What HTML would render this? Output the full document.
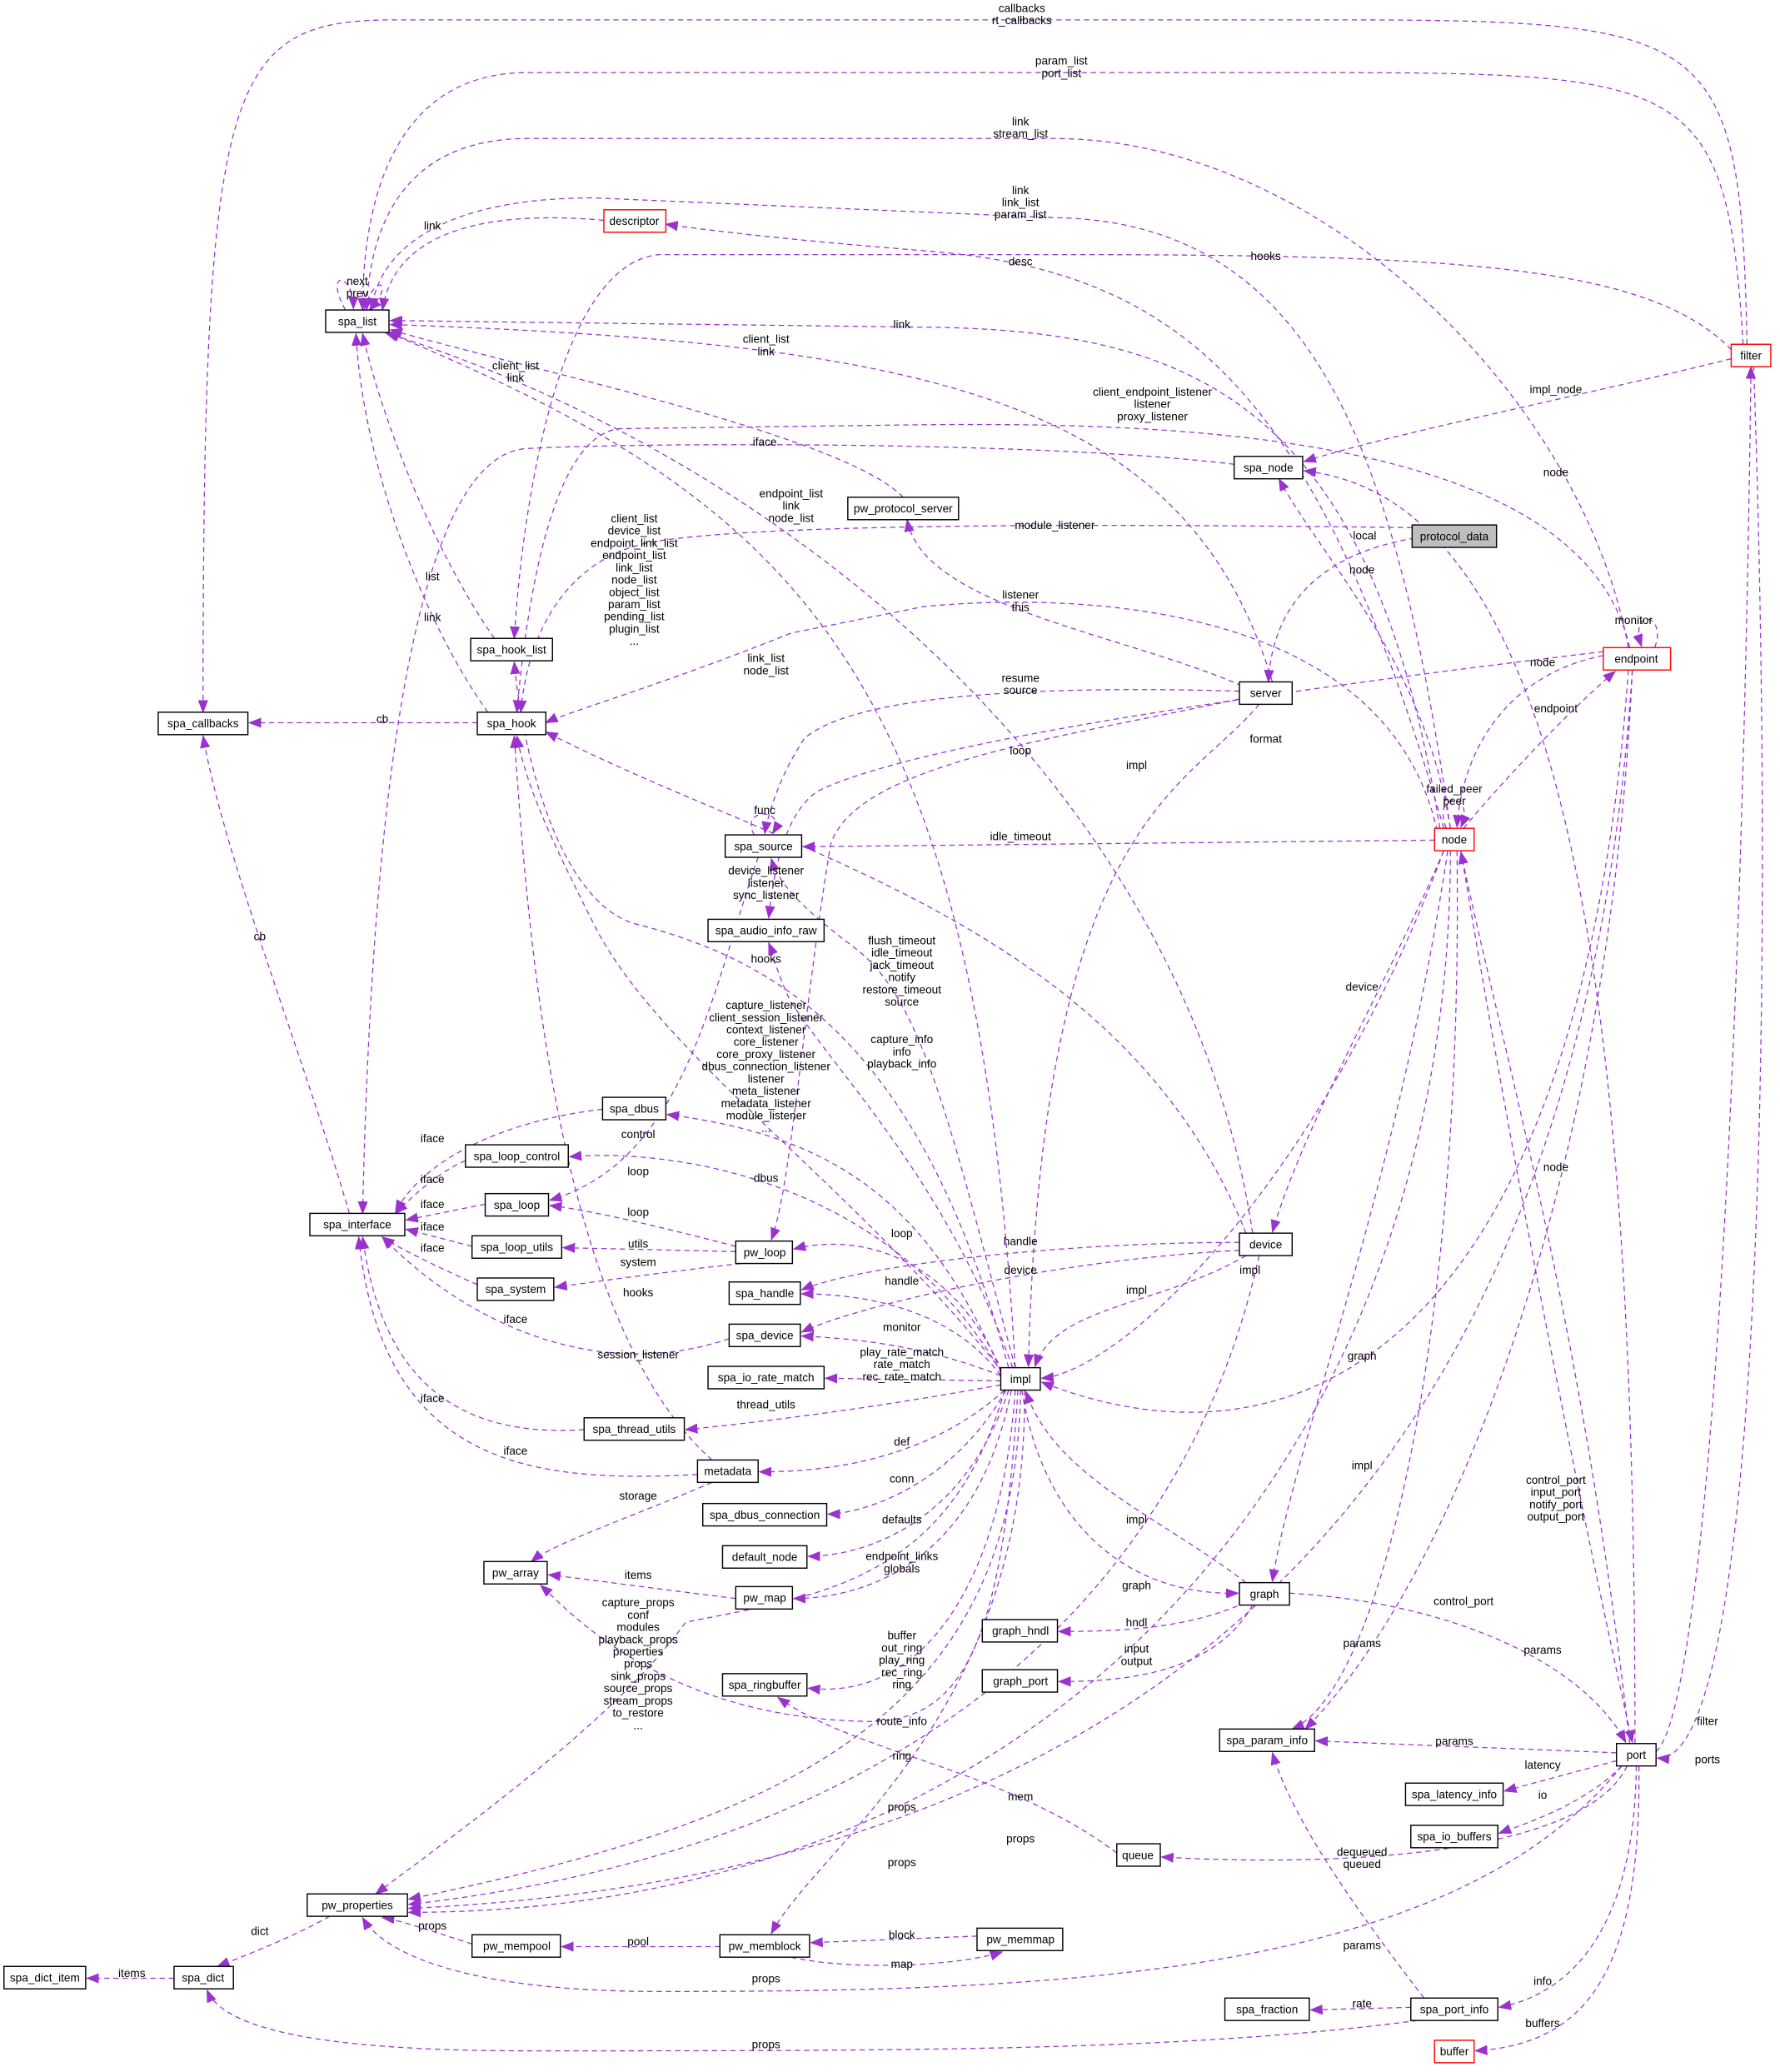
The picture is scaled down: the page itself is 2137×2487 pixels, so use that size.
<!DOCTYPE html>
<html><head><meta charset="utf-8"><style>
html,body{margin:0;padding:0;background:#fff;}
svg{display:block;}
text{font-family:"Liberation Sans",Helvetica,Arial,sans-serif;font-size:8.6px;fill:#000;}
.n rect{fill:#fff;stroke:#000;stroke-width:0.9;}
.r rect{stroke:#f00;}
.g rect{fill:#bfbfbf;}
.e path{fill:none;stroke:#9a32cd;stroke-width:0.8;stroke-dasharray:4,3;marker-end:url(#a);}
</style></head><body>
<svg width="2137" height="2487" viewBox="0 0 1350 1571" xmlns="http://www.w3.org/2000/svg">
<defs><marker id="a" markerWidth="10" markerHeight="8" refX="9" refY="4" orient="auto" markerUnits="userSpaceOnUse"><path d="M0,0.5 L9,4 L0,7.5 z" fill="#9a32cd" stroke="#9a32cd" stroke-width="0.6"/></marker></defs>
<g class="e">
<path d="M1325,261 C1320,20 1300,15 1000,15 L300,15 C170,15 154,60 154,540"/>
<path d="M1322,261 C1310,60 1280,55 1000,55 L400,55 C300,55 275,150 275,235"/>
<path d="M1235,491 C1200,300 1000,105 800,105 L400,105 C300,105 280,180 278,235"/>
<path d="M1100,628 C1060,350 1000,168 800,165 L450,150 C320,150 285,200 282,235"/>
<path d="M458,167 C380,160 300,170 290,235"/>
<path d="M1095,628 C1000,300 900,205 700,190 C600,182 540,175 505,170"/>
<path d="M1313,265 C1250,200 1100,193 800,193 L500,193 C420,200 395,400 390,484"/>
<path d="M1092,628 C1040,300 900,250 700,248 L296,243"/>
<path d="M965,517 C900,300 700,260 296,246"/>
<path d="M685,377 C640,330 400,280 296,250"/>
<path d="M936,352 C800,335 500,335 400,340 C300,345 280,700 275,920"/>
<path d="M1236,491 C1200,330 900,320 700,322 L470,325 C420,330 400,450 392,540"/>
<path d="M770,1037 C740,500 600,380 294,252"/>
<path d="M950,935 C900,600 600,350 292,252"/>
<path d="M1071,400 C900,398 600,395 500,410 C430,420 400,480 395,540"/>
<path d="M1073,408 C1000,420 965,460 962,517"/>
<path d="M1100,628 C1080,500 1000,420 970,363"/>
<path d="M942,520 C850,480 700,460 688,394"/>
<path d="M1090,630 C1050,450 800,450 700,460 L600,480 C500,520 430,540 414,548"/>
<path d="M375,484 C330,420 290,320 275,253"/>
<path d="M370,540 C320,470 275,350 270,253"/>
<path d="M262,235 C245,205 268,205 268,234"/>
<path d="M276,235 C285,205 300,215 280,235"/>
<path d="M362,548 L189,548"/>
<path d="M265,920 C230,800 170,650 154,558"/>
<path d="M1216,497 C1150,510 1110,560 1105,627"/>
<path d="M1110,628 C1150,580 1200,530 1225,509"/>
<path d="M1255,491 C1265,465 1235,460 1245,490"/>
<path d="M1216,494 C1000,520 700,560 620,600 C590,620 585,680 583,696"/>
<path d="M940,524 C800,520 650,525 610,560 C590,590 582,620 580,632"/>
<path d="M940,530 C800,560 650,580 630,640 C610,760 600,900 585,940"/>
<path d="M955,534 C900,600 790,620 780,1036"/>
<path d="M572,633 C560,612 598,612 586,632"/>
<path d="M1088,637 L609,642"/>
<path d="M1097,628 C1085,600 1120,600 1108,627"/>
<path d="M945,935 C850,700 600,650 414,555"/>
<path d="M765,1037 C700,800 600,730 480,700 C420,680 395,560 390,502"/>
<path d="M770,1037 C720,850 700,760 650,720 C610,690 590,670 585,651"/>
<path d="M768,1037 C720,900 640,820 600,760 C590,740 585,720 583,715"/>
<path d="M760,1040 C650,900 500,800 450,700 C420,640 400,600 392,558"/>
<path d="M457,841 C380,850 320,880 300,919"/>
<path d="M353,880 C330,890 310,910 300,920"/>
<path d="M368,913 L308,925"/>
<path d="M358,945 L308,932"/>
<path d="M362,974 C330,960 300,945 290,938"/>
<path d="M759,1040 C700,900 620,860 506,845"/>
<path d="M760,1042 C680,900 520,870 432,877"/>
<path d="M558,945 C500,930 450,918 417,914"/>
<path d="M575,650 C540,750 520,880 417,910"/>
<path d="M558,949 L427,946"/>
<path d="M562,958 C500,965 450,972 421,976"/>
<path d="M760,1040 C720,950 650,935 602,947"/>
<path d="M940,942 C800,942 650,960 608,978"/>
<path d="M940,948 C800,955 650,990 608,1010"/>
<path d="M759,1043 C720,990 650,981 608,981"/>
<path d="M540,1107 C420,1000 400,700 390,558"/>
<path d="M945,952 C880,990 800,990 785,1036"/>
<path d="M1095,645 C1000,900 850,1040 790,1045"/>
<path d="M759,1043 C700,1020 650,1015 608,1013"/>
<path d="M553,1015 C450,1050 350,1000 290,938"/>
<path d="M759,1047 L626,1045"/>
<path d="M759,1050 C650,1070 560,1080 520,1084"/>
<path d="M443,1084 C350,1090 290,1050 275,938"/>
<path d="M529,1118 C400,1125 290,1110 272,938"/>
<path d="M762,1054 C700,1110 620,1116 576,1116"/>
<path d="M540,1124 C480,1150 420,1170 403,1184"/>
<path d="M763,1054 C720,1130 650,1148 628,1148"/>
<path d="M765,1054 C730,1160 650,1180 613,1180"/>
<path d="M767,1054 C740,1190 650,1212 602,1212"/>
<path d="M558,1212 C500,1205 450,1198 416,1194"/>
<path d="M945,1200 C880,1150 800,1120 778,1055"/>
<path d="M775,1054 C790,1150 850,1210 939,1208"/>
<path d="M945,1215 C900,1235 850,1237 803,1237"/>
<path d="M950,1217 C920,1270 850,1275 803,1275"/>
<path d="M1235,508 C1200,1000 1000,1130 790,1048"/>
<path d="M1098,645 C1060,900 980,1100 965,1199"/>
<path d="M1095,645 C1050,750 990,850 965,934"/>
<path d="M1236,1322 C1200,1000 1140,800 1108,646"/>
<path d="M1108,645 C1150,900 1200,1150 1238,1321"/>
<path d="M978,1208 C1100,1215 1200,1260 1233,1321"/>
<path d="M1238,508 C1220,900 1100,1200 990,1311"/>
<path d="M1226,1329 L998,1320"/>
<path d="M1105,645 C1110,1000 1050,1280 980,1311"/>
<path d="M1226,1335 L1141,1358"/>
<path d="M1230,1339 C1200,1370 1150,1385 1137,1390"/>
<path d="M1234,1339 C1200,1410 1000,1415 881,1408"/>
<path d="M1256,1328 C1290,1300 1320,900 1328,278"/>
<path d="M1330,277 C1345,700 1340,1340 1257,1333"/>
<path d="M1313,272 C1200,300 1050,330 989,350"/>
<path d="M1240,1322 C1240,800 1200,380 989,357"/>
<path d="M1241,1339 C1240,1450 1200,1510 1137,1522"/>
<path d="M1243,1339 C1245,1500 1200,1550 1119,1555"/>
<path d="M1070,1522 L994,1524"/>
<path d="M1080,1515 C1030,1450 980,1380 965,1329"/>
<path d="M1075,1532 C900,1555 700,1555 400,1555 C250,1555 170,1540 157,1509"/>
<path d="M1230,1339 C1100,1500 800,1510 500,1510 C350,1510 290,1480 275,1454"/>
<path d="M847,1405 C760,1340 650,1330 590,1287"/>
<path d="M770,1054 C760,1200 700,1290 613,1280"/>
<path d="M772,1054 C760,1250 730,1310 650,1305 C500,1300 430,1220 410,1202"/>
<path d="M762,1054 C720,1200 620,1210 520,1230 C470,1300 360,1380 285,1436"/>
<path d="M774,1054 C770,1300 600,1380 310,1440"/>
<path d="M777,1054 C780,1300 620,1400 585,1466"/>
<path d="M955,952 C900,1200 700,1400 310,1444"/>
<path d="M1238,508 C1200,1100 900,1420 310,1447"/>
<path d="M1100,645 C1100,1100 800,1450 310,1450"/>
<path d="M741,1468 L615,1473"/>
<path d="M600,1484 C650,1495 730,1490 760,1480"/>
<path d="M546,1476 L426,1476"/>
<path d="M358,1474 C330,1465 300,1455 290,1454"/>
<path d="M250,1453 C220,1470 180,1485 165,1491"/>
<path d="M132,1500 L66,1500"/>
</g>
<g text-anchor="middle">
<text x="775" y="9">callbacks<tspan x="775" dy="9.3">rt_callbacks</tspan></text>
<text x="805" y="49">param_list<tspan x="805" dy="9.3">port_list</tspan></text>
<text x="774" y="95">link<tspan x="774" dy="9.3">stream_list</tspan></text>
<text x="774" y="147">link<tspan x="774" dy="9.3">link_list</tspan><tspan x="774" dy="9.3">param_list</tspan></text>
<text x="328" y="174">link</text>
<text x="774" y="201">desc</text>
<text x="960" y="197">hooks</text>
<text x="684" y="249">link</text>
<text x="581" y="260">client_list<tspan x="581" dy="9.3">link</tspan></text>
<text x="391" y="280">client_list<tspan x="391" dy="9.3">link</tspan></text>
<text x="580" y="338">iface</text>
<text x="874" y="300">client_endpoint_listener<tspan x="874" dy="9.3">listener</tspan><tspan x="874" dy="9.3">proxy_listener</tspan></text>
<text x="1180" y="298">impl_node</text>
<text x="1180" y="361">node</text>
<text x="600" y="377">endpoint_list<tspan x="600" dy="9.3">link</tspan><tspan x="600" dy="9.3">node_list</tspan></text>
<text x="800" y="401">module_listener</text>
<text x="1035" y="409">local</text>
<text x="1033" y="435">node</text>
<text x="481" y="396">client_list<tspan x="481" dy="9.3">device_list</tspan><tspan x="481" dy="9.3">endpoint_link_list</tspan><tspan x="481" dy="9.3">endpoint_list</tspan><tspan x="481" dy="9.3">link_list</tspan><tspan x="481" dy="9.3">node_list</tspan><tspan x="481" dy="9.3">object_list</tspan><tspan x="481" dy="9.3">param_list</tspan><tspan x="481" dy="9.3">pending_list</tspan><tspan x="481" dy="9.3">plugin_list</tspan><tspan x="481" dy="9.3">...</tspan></text>
<text x="328" y="440">list</text>
<text x="328" y="471">link</text>
<text x="271" y="216">next<tspan x="271" dy="9.3">prev</tspan></text>
<text x="774" y="454">listener<tspan x="774" dy="9.3">this</tspan></text>
<text x="581" y="502">link_list<tspan x="581" dy="9.3">node_list</tspan></text>
<text x="1239" y="473">monitor</text>
<text x="1170" y="505">node</text>
<text x="1180" y="540">endpoint</text>
<text x="774" y="517">resume<tspan x="774" dy="9.3">source</tspan></text>
<text x="290" y="548">cb</text>
<text x="960" y="563">format</text>
<text x="774" y="572">loop</text>
<text x="862" y="583">impl</text>
<text x="580" y="617">func</text>
<text x="1103" y="601">failed_peer<tspan x="1103" dy="9.3">peer</tspan></text>
<text x="774" y="637">idle_timeout</text>
<text x="581" y="663">device_listener<tspan x="581" dy="9.3">listener</tspan><tspan x="581" dy="9.3">sync_listener</tspan></text>
<text x="197" y="713">cb</text>
<text x="684" y="716">flush_timeout<tspan x="684" dy="9.3">idle_timeout</tspan><tspan x="684" dy="9.3">jack_timeout</tspan><tspan x="684" dy="9.3">notify</tspan><tspan x="684" dy="9.3">restore_timeout</tspan><tspan x="684" dy="9.3">source</tspan></text>
<text x="581" y="730">hooks</text>
<text x="1033" y="751">device</text>
<text x="581" y="765">capture_listener<tspan x="581" dy="9.3">client_session_listener</tspan><tspan x="581" dy="9.3">context_listener</tspan><tspan x="581" dy="9.3">core_listener</tspan><tspan x="581" dy="9.3">core_proxy_listener</tspan><tspan x="581" dy="9.3">dbus_connection_listener</tspan><tspan x="581" dy="9.3">listener</tspan><tspan x="581" dy="9.3">meta_listener</tspan><tspan x="581" dy="9.3">metadata_listener</tspan><tspan x="581" dy="9.3">module_listener</tspan><tspan x="581" dy="9.3">...</tspan></text>
<text x="684" y="791">capture_info<tspan x="684" dy="9.3">info</tspan><tspan x="684" dy="9.3">playback_info</tspan></text>
<text x="484" y="863">control</text>
<text x="328" y="866">iface</text>
<text x="1180" y="888">node</text>
<text x="484" y="891">loop</text>
<text x="581" y="896">dbus</text>
<text x="328" y="897">iface</text>
<text x="328" y="916">iface</text>
<text x="484" y="922">loop</text>
<text x="328" y="933">iface</text>
<text x="684" y="938">loop</text>
<text x="774" y="944">handle</text>
<text x="484" y="946">utils</text>
<text x="328" y="949">iface</text>
<text x="484" y="960">system</text>
<text x="948" y="966">impl</text>
<text x="774" y="966">device</text>
<text x="684" y="974">handle</text>
<text x="862" y="981">impl</text>
<text x="484" y="983">hooks</text>
<text x="391" y="1003">iface</text>
<text x="684" y="1009">monitor</text>
<text x="1033" y="1031">graph</text>
<text x="484" y="1030">session_listener</text>
<text x="684" y="1028">play_rate_match<tspan x="684" dy="9.3">rate_match</tspan><tspan x="684" dy="9.3">rec_rate_match</tspan></text>
<text x="328" y="1063">iface</text>
<text x="581" y="1068">thread_utils</text>
<text x="684" y="1096">def</text>
<text x="391" y="1103">iface</text>
<text x="1033" y="1114">impl</text>
<text x="1180" y="1125">control_port<tspan x="1180" dy="9.3">input_port</tspan><tspan x="1180" dy="9.3">notify_port</tspan><tspan x="1180" dy="9.3">output_port</tspan></text>
<text x="684" y="1124">conn</text>
<text x="484" y="1137">storage</text>
<text x="684" y="1155">defaults</text>
<text x="862" y="1155">impl</text>
<text x="684" y="1183">endpoint_links<tspan x="684" dy="9.3">globals</tspan></text>
<text x="484" y="1197">items</text>
<text x="862" y="1205">graph</text>
<text x="1110" y="1217">control_port</text>
<text x="484" y="1218">capture_props<tspan x="484" dy="9.3">conf</tspan><tspan x="484" dy="9.3">modules</tspan><tspan x="484" dy="9.3">playback_props</tspan><tspan x="484" dy="9.3">properties</tspan><tspan x="484" dy="9.3">props</tspan><tspan x="484" dy="9.3">sink_props</tspan><tspan x="484" dy="9.3">source_props</tspan><tspan x="484" dy="9.3">stream_props</tspan><tspan x="484" dy="9.3">to_restore</tspan><tspan x="484" dy="9.3">...</tspan></text>
<text x="862" y="1233">hndl</text>
<text x="684" y="1243">buffer<tspan x="684" dy="9.3">out_ring</tspan><tspan x="684" dy="9.3">play_ring</tspan><tspan x="684" dy="9.3">rec_ring</tspan><tspan x="684" dy="9.3">ring</tspan></text>
<text x="1033" y="1249">params</text>
<text x="862" y="1253">input<tspan x="862" dy="9.3">output</tspan></text>
<text x="1170" y="1254">params</text>
<text x="1295" y="1308">filter</text>
<text x="684" y="1308">route_info</text>
<text x="1103" y="1323">params</text>
<text x="684" y="1334">ring</text>
<text x="1295" y="1337">ports</text>
<text x="1170" y="1341">latency</text>
<text x="774" y="1365">mem</text>
<text x="1170" y="1364">io</text>
<text x="684" y="1373">props</text>
<text x="774" y="1397">props</text>
<text x="1033" y="1407">dequeued<tspan x="1033" dy="9.3">queued</tspan></text>
<text x="684" y="1415">props</text>
<text x="328" y="1463">props</text>
<text x="197" y="1467">dict</text>
<text x="684" y="1470">block</text>
<text x="484" y="1475">pool</text>
<text x="1033" y="1478">params</text>
<text x="684" y="1492">map</text>
<text x="100" y="1499">items</text>
<text x="581" y="1503">props</text>
<text x="1170" y="1505">info</text>
<text x="1033" y="1522">rate</text>
<text x="1170" y="1537">buffers</text>
<text x="581" y="1553">props</text>
</g>
<g class="n" text-anchor="middle">
<g><rect x="247" y="235" width="48" height="17"/><text x="271" y="246.5">spa_list</text></g>
<g class="r"><rect x="458" y="159" width="47" height="17"/><text x="481" y="170.5">descriptor</text></g>
<g class="r"><rect x="1313" y="261" width="30" height="17"/><text x="1328" y="272.5">filter</text></g>
<g><rect x="936" y="346" width="52" height="17"/><text x="962" y="357.5">spa_node</text></g>
<g><rect x="643" y="377" width="84" height="17"/><text x="685" y="388.5">pw_protocol_server</text></g>
<g class="g"><rect x="1071" y="398" width="64" height="17"/><text x="1103" y="409.5">protocol_data</text></g>
<g class="r"><rect x="1216" y="491" width="51" height="17"/><text x="1241" y="502.5">endpoint</text></g>
<g><rect x="357" y="484" width="62" height="17"/><text x="388" y="495.5">spa_hook_list</text></g>
<g><rect x="940" y="517" width="40" height="17"/><text x="960" y="528.5">server</text></g>
<g><rect x="120" y="540" width="68" height="17"/><text x="154" y="551.5">spa_callbacks</text></g>
<g><rect x="362" y="540" width="52" height="17"/><text x="388" y="551.5">spa_hook</text></g>
<g><rect x="550" y="633" width="58" height="17"/><text x="579" y="644.5">spa_source</text></g>
<g class="r"><rect x="1088" y="628" width="30" height="17"/><text x="1103" y="639.5">node</text></g>
<g><rect x="537" y="697" width="88" height="17"/><text x="581" y="708.5">spa_audio_info_raw</text></g>
<g><rect x="457" y="832" width="48" height="17"/><text x="481" y="843.5">spa_dbus</text></g>
<g><rect x="353" y="868" width="78" height="17"/><text x="392" y="879.5">spa_loop_control</text></g>
<g><rect x="368" y="905" width="48" height="17"/><text x="392" y="916.5">spa_loop</text></g>
<g><rect x="235" y="920" width="72" height="17"/><text x="271" y="931.5">spa_interface</text></g>
<g><rect x="358" y="937" width="68" height="17"/><text x="392" y="948.5">spa_loop_utils</text></g>
<g><rect x="940" y="935" width="40" height="17"/><text x="960" y="946.5">device</text></g>
<g><rect x="558" y="941" width="43" height="17"/><text x="580" y="952.5">pw_loop</text></g>
<g><rect x="362" y="969" width="58" height="17"/><text x="391" y="980.5">spa_system</text></g>
<g><rect x="553" y="972" width="54" height="17"/><text x="580" y="983.5">spa_handle</text></g>
<g><rect x="553" y="1004" width="54" height="17"/><text x="580" y="1015.5">spa_device</text></g>
<g><rect x="537" y="1036" width="88" height="17"/><text x="581" y="1047.5">spa_io_rate_match</text></g>
<g><rect x="759" y="1037" width="30" height="17"/><text x="774" y="1048.5">impl</text></g>
<g><rect x="443" y="1075" width="76" height="17"/><text x="481" y="1086.5">spa_thread_utils</text></g>
<g><rect x="529" y="1107" width="46" height="17"/><text x="552" y="1118.5">metadata</text></g>
<g><rect x="533" y="1140" width="94" height="17"/><text x="580" y="1151.5">spa_dbus_connection</text></g>
<g><rect x="548" y="1172" width="64" height="17"/><text x="580" y="1183.5">default_node</text></g>
<g><rect x="367" y="1184" width="48" height="17"/><text x="391" y="1195.5">pw_array</text></g>
<g><rect x="558" y="1203" width="43" height="17"/><text x="580" y="1214.5">pw_map</text></g>
<g><rect x="940" y="1200" width="38" height="17"/><text x="959" y="1211.5">graph</text></g>
<g><rect x="745" y="1228" width="57" height="17"/><text x="774" y="1239.5">graph_hndl</text></g>
<g><rect x="745" y="1266" width="57" height="17"/><text x="774" y="1277.5">graph_port</text></g>
<g><rect x="548" y="1269" width="64" height="17"/><text x="580" y="1280.5">spa_ringbuffer</text></g>
<g><rect x="925" y="1311" width="72" height="17"/><text x="961" y="1322.5">spa_param_info</text></g>
<g><rect x="1226" y="1322" width="30" height="17"/><text x="1241" y="1333.5">port</text></g>
<g><rect x="1066" y="1352" width="74" height="17"/><text x="1103" y="1363.5">spa_latency_info</text></g>
<g><rect x="1070" y="1384" width="66" height="17"/><text x="1103" y="1395.5">spa_io_buffers</text></g>
<g><rect x="847" y="1398" width="33" height="17"/><text x="863" y="1409.5">queue</text></g>
<g><rect x="233" y="1436" width="76" height="17"/><text x="271" y="1447.5">pw_properties</text></g>
<g><rect x="741" y="1462" width="65" height="17"/><text x="774" y="1473.5">pw_memmap</text></g>
<g><rect x="358" y="1467" width="67" height="17"/><text x="392" y="1478.5">pw_mempool</text></g>
<g><rect x="546" y="1467" width="68" height="17"/><text x="580" y="1478.5">pw_memblock</text></g>
<g><rect x="3" y="1491" width="62" height="17"/><text x="34" y="1502.5">spa_dict_item</text></g>
<g><rect x="132" y="1491" width="45" height="17"/><text x="154" y="1502.5">spa_dict</text></g>
<g><rect x="929" y="1515" width="64" height="17"/><text x="961" y="1526.5">spa_fraction</text></g>
<g><rect x="1070" y="1515" width="66" height="17"/><text x="1103" y="1526.5">spa_port_info</text></g>
<g class="r"><rect x="1088" y="1547" width="30" height="17"/><text x="1103" y="1558.5">buffer</text></g>
</g>
</svg>
</body></html>
